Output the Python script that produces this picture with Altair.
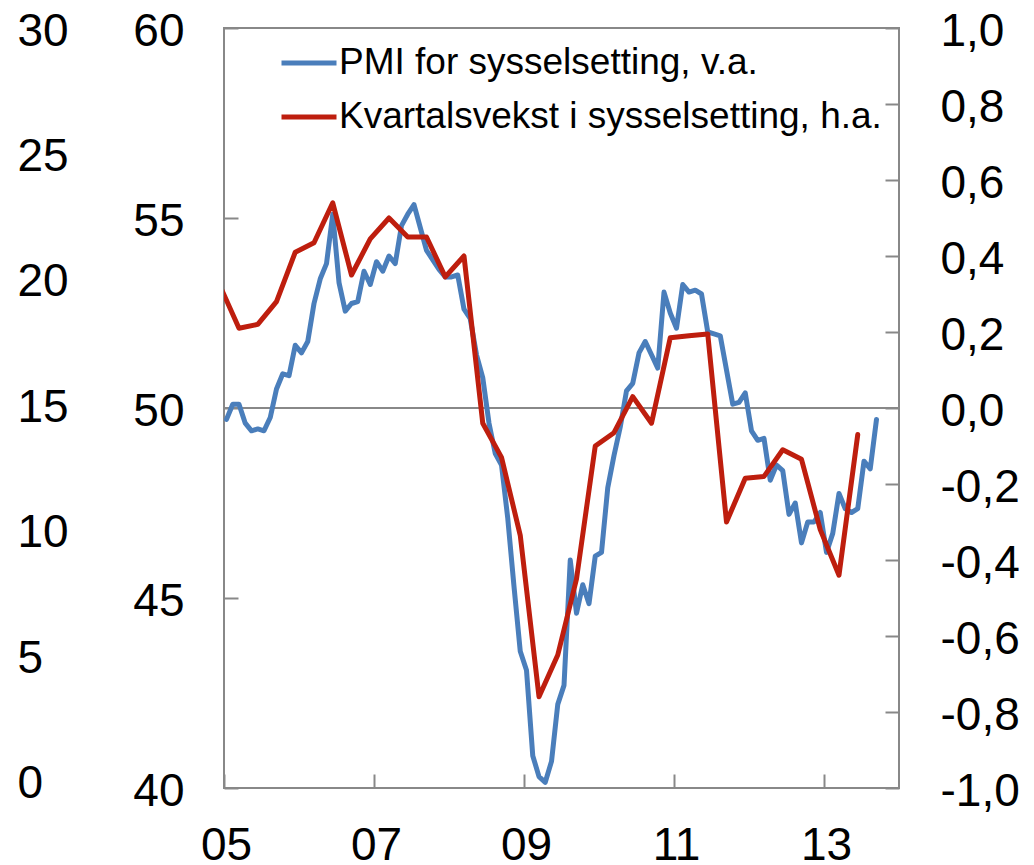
import altair as alt
import pandas as pd

FONT = "Liberation Sans"
BLUE = "#4A7EBB"
RED = "#BE1E0E"
GRAY = "#888888"

PMI_LABEL = "PMI for sysselsetting, v.a."
EMP_LABEL = "Kvartalsvekst i sysselsetting, h.a."

# Monthly PMI (employment), Jan 2005 - Sep 2013, left axis
pmi_values = [
    49.7, 50.1, 50.1, 49.6, 49.4, 49.45, 49.4, 49.75, 50.5, 50.9, 50.85, 51.65,
    51.45, 51.75, 52.75, 53.4, 53.8, 55.1, 53.3, 52.55, 52.75, 52.8, 53.6, 53.25,
    53.85, 53.6, 54.0, 53.8, 54.8, 55.1, 55.35, 54.75, 54.15, 53.9, 53.65, 53.45,
    53.45, 53.5, 52.6, 52.35, 51.4, 50.8, 49.6, 48.8, 48.5, 47.1, 45.3, 43.6,
    43.1, 40.85, 40.3, 40.15, 40.7, 42.2, 42.7, 46.0, 44.6, 45.35, 44.85, 46.1,
    46.2, 47.9, 48.75, 49.5, 50.45, 50.65, 51.45, 51.75, 51.4, 51.05, 53.05, 52.5,
    52.1, 53.25, 53.05, 53.1, 53.0, 52.0, 51.95, 51.9, 51.0, 50.1, 50.15, 50.4,
    49.4, 49.15, 49.2, 48.1, 48.5, 48.35, 47.2, 47.5, 46.45, 47.0, 47.0, 47.25,
    46.2, 46.7, 47.75, 47.35, 47.25, 47.35, 48.6, 48.4, 49.7,
]

# Quarterly employment growth, 2004Q4 - 2013Q2, right axis
emp_values = [
    0.32, 0.21, 0.22, 0.28, 0.41, 0.435, 0.54, 0.35, 0.445, 0.50, 0.45, 0.45,
    0.345, 0.40, -0.04, -0.13, -0.335, -0.76, -0.65, -0.45, -0.10, -0.065, 0.03,
    -0.04, 0.185, 0.19, 0.195, -0.30, -0.185, -0.18, -0.11, -0.135, -0.32, -0.44,
    -0.07,
]

x_ticks = [2005, 2007, 2009, 2011, 2013]
pmi_ticks = [40, 45, 50, 55, 60]
emp_ticks = [-1.0, -0.8, -0.6, -0.4, -0.2, 0.0, 0.2, 0.4, 0.6, 0.8, 1.0]
outer_ticks = [0, 5, 10, 15, 20, 25, 30]
pmi_reference = [50]

POS_IN_MONTH = 0.4  # where a month's point sits inside the month

pmi_df = pd.DataFrame({
    "t": [2005 + (i + POS_IN_MONTH) / 12 for i in range(len(pmi_values))],
    "value": pmi_values,
    "series": PMI_LABEL,
})
# first quarter is 2004Q4; point at the last month of each quarter
emp_df = pd.DataFrame({
    "t": [2005 + (3 * k - 1 + POS_IN_MONTH) / 12 for k in range(len(emp_values))],
    "value": emp_values,
    "series": EMP_LABEL,
})

x_scale = alt.Scale(domain=[2005, 2014], nice=False, zero=False)
pmi_scale = alt.Scale(domain=[40, 60], nice=False, zero=False)
emp_scale = alt.Scale(domain=[-1, 1], nice=False, zero=False)
outer_scale = alt.Scale(domain=[-0.3, 30], nice=False, zero=False)

label_style = dict(labelFont=FONT, labelFontSize=46, labelColor="black",
                   labelOverlap=False, labelFlush=False, title=None, grid=False)

x_axis = alt.Axis(values=x_ticks, labelExpr="substring(toString(datum.value), 2, 4)",
                  domain=False, ticks=True, tickSize=14, offset=-14, tickColor=GRAY,
                  tickWidth=2, labelPadding=35, labelBaseline="top", labelOffset=2,
                  orient="bottom", **label_style)
pmi_axis = alt.Axis(values=pmi_ticks, orient="left", domain=False, ticks=True,
                    tickSize=14, offset=-14, tickColor=GRAY, tickWidth=2,
                    labelPadding=40, labelOffset=3, **label_style)
emp_axis = alt.Axis(values=emp_ticks, orient="right", domain=False, ticks=True,
                    tickSize=14, offset=-14, tickColor=GRAY, tickWidth=2,
                    labelPadding=41, labelOffset=3, labelAlign="left",
                    labelExpr="(datum.value < -0.001 ? '-' : '') + replace(format(abs(datum.value), '.1f'), '.', ',')",
                    **label_style)
outer_axis = alt.Axis(values=outer_ticks, orient="left", domain=False, ticks=False,
                      tickSize=0, offset=0, labelPadding=207, labelAlign="left",
                      labelOffset=3, **label_style)


def make_legend(legend_y):
    return alt.Legend(title=None, orient="none", legendX=55, legendY=legend_y,
                      padding=0, symbolType="stroke", symbolSize=3025,
                      symbolStrokeWidth=5, symbolOffset=0, labelOffset=0,
                      labelFont=FONT, labelFontSize=37, labelColor="black",
                      labelLimit=1000)


x_enc = alt.X("t:Q", scale=x_scale, axis=x_axis)

rule = alt.Chart(pd.DataFrame({"value": pmi_reference})).mark_rule(
    color=GRAY, strokeWidth=2
).encode(y=alt.Y("value:Q", scale=pmi_scale, axis=pmi_axis))

blue = alt.Chart(pmi_df).mark_line(
    strokeWidth=5, strokeJoin="round", strokeCap="round", clip=True
).encode(
    x=x_enc,
    y=alt.Y("value:Q", scale=pmi_scale, axis=pmi_axis),
    color=alt.Color("series:N", scale=alt.Scale(domain=[PMI_LABEL], range=[BLUE]),
                    legend=make_legend(5)),
)

red = alt.Chart(emp_df).mark_line(
    strokeWidth=5, strokeJoin="round", strokeCap="round", clip=True
).encode(
    x=x_enc,
    y=alt.Y("value:Q", scale=emp_scale, axis=emp_axis),
    stroke=alt.Stroke("series:N", scale=alt.Scale(domain=[EMP_LABEL], range=[RED]),
                      legend=make_legend(59)),
)

outer = alt.Chart(pd.DataFrame({"v": outer_ticks})).mark_point(opacity=0).encode(
    y=alt.Y("v:Q", scale=outer_scale, axis=outer_axis)
)

chart = alt.layer(alt.layer(rule, blue), red, outer).resolve_scale(
    y="independent"
).properties(
    width=675, height=760,
    autosize=alt.AutoSizeParams(type="none"),
    padding={"left": 216, "top": 20, "right": 126, "bottom": 76},
).configure_view(stroke=GRAY, strokeWidth=2)

chart.save("out.html", embed_options={"renderer": "svg", "actions": False})
